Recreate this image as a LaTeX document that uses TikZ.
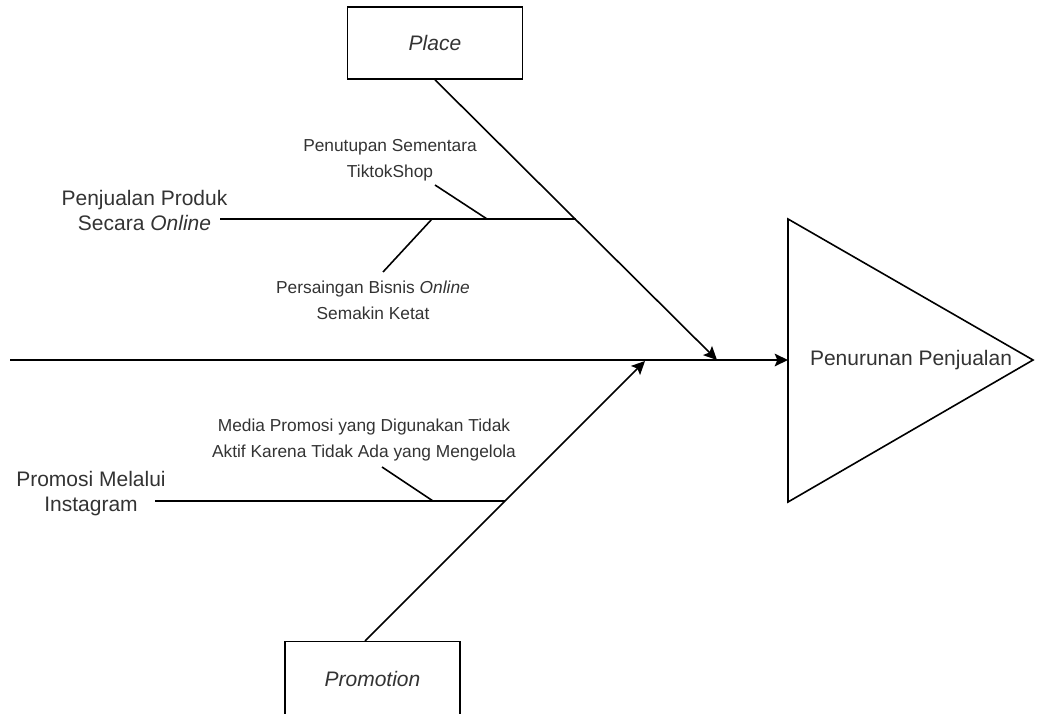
\documentclass[tikz,border=0pt]{standalone}
\usepackage{fontspec}
\setmainfont{Liberation Sans}
\usetikzlibrary{arrows.meta}

\begin{document}
\begin{tikzpicture}[
        x=0.75pt, y=-0.75pt,
        line width=1.2pt,
        big/.style={align=center, inner sep=0pt, text=black!80, font=\fontsize{15.75}{18.9}\selectfont},
        small/.style={align=center, inner sep=0pt, text=black!80, font=\fontsize{13}{19.5}\selectfont},
        catbox/.style={draw, rectangle, minimum width=131.5pt, minimum height=54pt, big},
        bone/.style={draw, -{Stealth[length=10pt, width=9.5pt, inset=2pt]}}
    ]
 \useasboundingbox (0,0) rectangle (1037,713);
 \node[catbox] (place) at (435,43) {\textit{Place}};
 \node[catbox, minimum height=56pt] (promo) at (372.5,679) {\textit{Promotion}};
 \node[big] (effect) at (911,360) {Penurunan Penjualan};
 \node[big] (r1) at (144.5,210.5) {Penjualan Produk\\Secara \textit{Online}};
 \node[big] (r2) at (91,493.5) {Promosi Melalui\\Instagram};
 \node[small] (c1) at (390,160) {Penutupan Sementara\\TiktokShop};
 \node[small] (c2) at (373,300) {Persaingan Bisnis \textit{Online}\\Semakin Ketat};
 \node[small] (c3) at (364,440) {Media Promosi yang Digunakan Tidak\\Aktif Karena Tidak Ada yang Mengelola};
 \coordinate (tail) at (10,360);
 \coordinate (mouth) at (788,360);
 \coordinate (hit1) at (717,360);
 \coordinate (hit2) at (645,361);
 \coordinate (r1s) at (220,219);
 \coordinate (j1) at (576,219);
 \coordinate (r2s) at (155,501);
 \coordinate (j2) at (505,501);
 \coordinate (k1) at (487,219);
 \coordinate (k1s) at (435,185);
 \coordinate (k2) at (432,219);
 \coordinate (k2s) at (383,272);
 \coordinate (k3) at (433,501);
 \coordinate (k3s) at (382,467);
 \draw (mouth |- 0,219) -- (1033,360) -- (mouth |- 0,502) -- cycle;
 \draw[bone] (tail) -- (mouth);
 \draw[bone] (place.south) -- (hit1);
 \draw[bone] ([xshift=-5.6pt]promo.north) -- (hit2);
 \draw (r1s) -- (j1);
 \draw (r2s) -- (j2);
 \draw (k1s) -- (k1);
 \draw (k2s) -- (k2);
 \draw (k3s) -- (k3);
\end{tikzpicture}
\end{document}
